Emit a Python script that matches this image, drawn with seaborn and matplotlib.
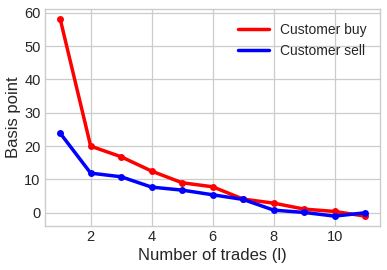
import matplotlib
matplotlib.use("Agg")
import matplotlib.pyplot as plt
import seaborn as sns
import pandas as pd

trades = [1, 2, 3, 4, 5, 6, 7, 8, 9, 10, 11]
customer_buy = [58.2, 20.0, 16.8, 12.5, 9.0, 7.8, 4.1, 2.9, 1.1, 0.4, -1.0]
customer_sell = [23.9, 11.9, 10.8, 7.7, 6.8, 5.4, 4.0, 0.8, 0.1, -1.0, 0.0]

sns.set_style("whitegrid")
plt.rcParams['font.family'] = ['Liberation Sans', 'DejaVu Sans']

df = pd.DataFrame({
    "trades": trades * 2,
    "bp": customer_buy + customer_sell,
    "series": ["Customer buy"] * len(trades) + ["Customer sell"] * len(trades),
})

fig, ax = plt.subplots(figsize=(3.87, 2.70), dpi=100)
sns.lineplot(data=df, x="trades", y="bp", hue="series",
             palette={"Customer buy": "red", "Customer sell": "blue"},
             marker="o", markersize=5, markeredgewidth=0, linewidth=2.5, ax=ax)

ax.set_xlim(0.5, 11.5)
ax.set_xticks([2, 4, 6, 8, 10])
ax.set_yticks([0, 10, 20, 30, 40, 50, 60])
ax.tick_params(labelsize=10.5, colors="#262626", length=0, pad=3)
ax.set_xlabel("Number of trades (l)", fontsize=12, color="#262626", labelpad=3)
ax.set_ylabel("Basis point", fontsize=12, color="#262626", labelpad=2.5)
for s in ax.spines.values():
    s.set_color("#cccccc")
    s.set_linewidth(1)
ax.grid(color="#cccccc", linewidth=0.9)

leg = ax.legend(loc="upper right", frameon=False, fontsize=10, handlelength=2.2,
                labelspacing=0.5, borderaxespad=0.6)
for line in leg.get_lines():
    line.set_marker("")
    line.set_linewidth(2.5)

fig.subplots_adjust(left=0.116, right=0.983, top=0.967, bottom=0.163)
fig.savefig("out.png", dpi=100)
